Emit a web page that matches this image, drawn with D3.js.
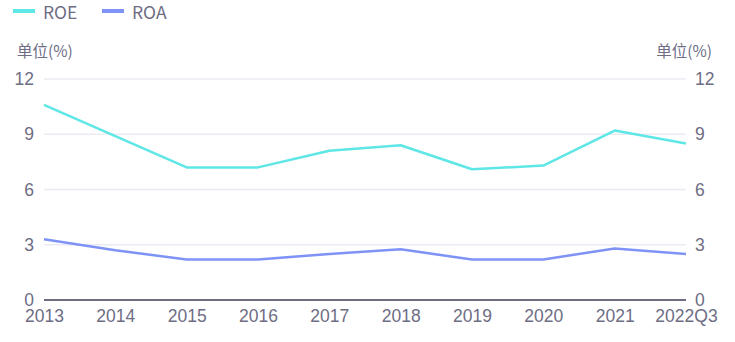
<!DOCTYPE html>
<html>
<head>
<meta charset="utf-8">
<script src="https://cdn.jsdelivr.net/npm/d3@7/dist/d3.min.js"></script>
<style>
  html, body { margin: 0; padding: 0; background: #fff; }
  svg { display: block; font-family: "Noto Sans CJK SC", "Noto Sans", sans-serif; }
</style>
</head>
<body>
<svg id="chart" width="735" height="342"></svg>
<script>
// Data
const categories = ["2013", "2014", "2015", "2016", "2017", "2018", "2019", "2020", "2021", "2022Q3"];
const roe = [10.6, 8.9, 7.2, 7.2, 8.1, 8.4, 7.1, 7.3, 9.2, 8.5];
const roa = [3.3, 2.7, 2.2, 2.2, 2.5, 2.75, 2.2, 2.2, 2.8, 2.5];
const yTicks = [0, 3, 6, 9, 12];
const seriesNames = ["ROE", "ROA"];
const seriesColors = ["#5fe6e6", "#7f93f7"];

const svg = d3.select("#chart");
const plot = { left: 44, right: 686, top: 79, bottom: 300 };
const textColor = "#6e6d84";

const x = d3.scalePoint().domain(categories).range([plot.left, plot.right]);
const y = d3.scaleLinear().domain([0, 12]).range([plot.bottom, plot.top]);

// Grid lines
svg.append("g")
  .selectAll("line")
  .data(yTicks.filter(d => d > 0))
  .join("line")
  .attr("x1", plot.left).attr("x2", plot.right)
  .attr("y1", d => y(d)).attr("y2", d => y(d))
  .attr("stroke", "#ecebf3").attr("stroke-width", 1.5);

// Left axis labels
const yLeft = d3.axisLeft(y).tickValues(yTicks).tickSize(0).tickPadding(10);
const gl = svg.append("g").attr("transform", `translate(${plot.left},0)`).call(yLeft);
gl.select(".domain").remove();
gl.selectAll("text").attr("fill", textColor).style("font-size", "17.5px");

// Right axis labels
const yRight = d3.axisRight(y).tickValues(yTicks).tickSize(0).tickPadding(9);
const gr = svg.append("g").attr("transform", `translate(${plot.right},0)`).call(yRight);
gr.select(".domain").remove();
gr.selectAll("text").attr("fill", textColor).style("font-size", "17.5px");

// Unit labels
svg.append("text").attr("x", 17).attr("y", 57).text("单位(%)")
  .attr("fill", textColor).style("font-size", "15.5px");
svg.append("text").attr("x", 712).attr("y", 57).attr("text-anchor", "end").text("单位(%)")
  .attr("fill", textColor).style("font-size", "15.5px");

// Bottom axis
const xAxis = d3.axisBottom(x).tickSize(0).tickPadding(10);
const gx = svg.append("g").attr("transform", `translate(0,${plot.bottom})`).call(xAxis);
gx.select(".domain").attr("stroke", "#6e6d84").attr("stroke-width", 2)
  .attr("d", `M${plot.left},0H${plot.right}`);
gx.selectAll("text").attr("fill", textColor).style("font-size", "17.5px");

// Lines
const line = d3.line().x((d, i) => x(categories[i])).y(d => y(d));
[roe, roa].forEach((vals, k) => {
  svg.append("path")
    .datum(vals)
    .attr("d", line)
    .attr("fill", "none")
    .attr("stroke", seriesColors[k])
    .attr("stroke-width", 2.5)
    .attr("stroke-linejoin", "round");
});

// Legend
const legendX = [13, 102];
seriesNames.forEach((name, k) => {
  const g = svg.append("g").attr("transform", `translate(${legendX[k]},0)`);
  g.append("line").attr("x1", 0).attr("x2", 22).attr("y1", 11).attr("y2", 11)
    .attr("stroke", seriesColors[k]).attr("stroke-width", 4);
  g.append("text").attr("x", 30).attr("y", 18.5).text(name)
    .attr("fill", textColor).style("font-size", "17.5px");
});
</script>
</body>
</html>
